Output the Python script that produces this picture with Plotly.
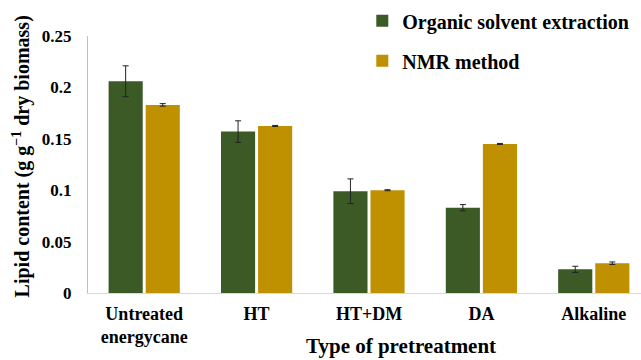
import plotly.graph_objects as go

categories = ["Untreated<br>energycane", "HT", "HT+DM", "DA", "Alkaline"]
solvent = [0.206, 0.157, 0.099, 0.083, 0.023]
solvent_err = [0.015, 0.0105, 0.012, 0.003, 0.003]
nmr = [0.183, 0.1625, 0.100, 0.145, 0.029]
nmr_err = [0.0012, 0.0005, 0.0005, 0.0005, 0.0012]

GREEN = "#3b5a26"
GOLD = "#bf9000"
FONT = "Liberation Serif"

fig = go.Figure()
fig.add_trace(go.Bar(
    name="Organic solvent extraction", x=categories, y=solvent,
    marker=dict(color=GREEN, line=dict(width=0)),
    error_y=dict(type="data", array=solvent_err, color="#222222", thickness=1, width=3),
    legendgroup="a",
))
fig.add_trace(go.Bar(
    name="NMR method", x=categories, y=nmr,
    marker=dict(color=GOLD, line=dict(width=0)),
    error_y=dict(type="data", array=nmr_err, color="#222222", thickness=1, width=3),
    legendgroup="b",
))

fig.update_layout(
    width=641, height=360,
    margin=dict(l=88, r=0, t=36, b=67, autoexpand=False),
    paper_bgcolor="white", plot_bgcolor="white",
    barmode="group", bargap=0.34, bargroupgap=0.08,
    font=dict(family=FONT, size=16, color="black"),
    showlegend=True,
    legend=dict(
        x=0.496, y=1.135, xanchor="left", yanchor="top",
        font=dict(family=FONT, size=20, color="black", weight="bold"),
        tracegroupgap=11, bgcolor="rgba(0,0,0,0)",
    ),
    xaxis=dict(
        range=[-0.5, 4.42], showgrid=False, zeroline=False,
        showline=True, linecolor="#d9d9d9", linewidth=1,
        ticks="", tickangle=0, automargin=False, ticklabelstandoff=4,
        tickfont=dict(family=FONT, size=18, weight="bold"),
    ),
    yaxis=dict(
        range=[0, 0.25], showgrid=False, zeroline=False,
        showline=True, linecolor="#bfbfbf", linewidth=1,
        tickvals=[0, 0.05, 0.1, 0.15, 0.2, 0.25],
        ticktext=["0", "0.05", "0.1", "0.15", "0.2", "0.25"],
        ticks="", ticklabelstandoff=12, automargin=False,
        tickfont=dict(family=FONT, size=17, weight="bold"),
    ),
    annotations=[
        dict(text="Lipid content (g g<sup>−1</sup> dry biomass)", textangle=-90,
             xref="paper", yref="paper", x=-0.12, y=0.53,
             xanchor="center", yanchor="middle", showarrow=False,
             font=dict(family=FONT, size=20, weight="bold")),
        dict(text="Type of pretreatment",
             xref="paper", yref="paper", x=0.566, y=-0.205,
             xanchor="center", yanchor="middle", showarrow=False,
             font=dict(family=FONT, size=21, weight="bold")),
    ],
)

fig.write_html("out.html")
